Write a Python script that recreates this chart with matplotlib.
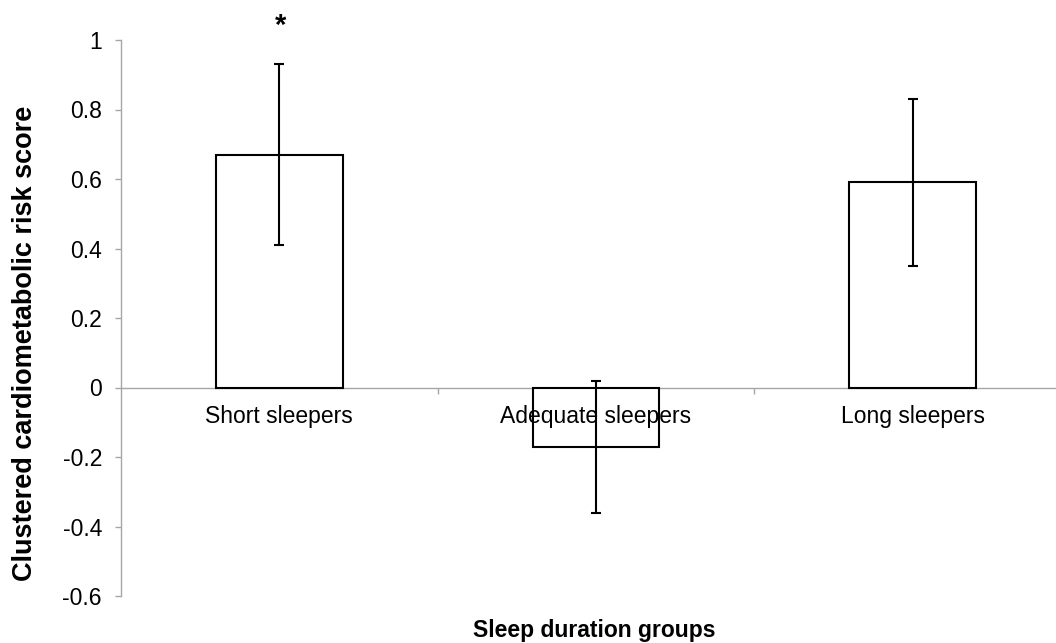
import matplotlib
matplotlib.use("Agg")
import matplotlib.pyplot as plt

categories = ["Short sleepers", "Adequate sleepers", "Long sleepers"]
means = [0.67, -0.17, 0.59]
errors = [0.26, 0.19, 0.24]
yticks = [1, 0.8, 0.6, 0.4, 0.2, 0, -0.2, -0.4, -0.6]
ytick_labels = ["1", "0.8", "0.6", "0.4", "0.2", "0", "-0.2", "-0.4", "-0.6"]

plt.rcParams['font.family'] = ['Liberation Sans', 'DejaVu Sans']

fig = plt.figure(figsize=(10.56, 6.43), dpi=100)
ax = fig.add_axes([121/1056, 47/643, 950/1056, 556/643])

x = list(range(len(categories)))
ax.bar(x, means, width=0.4, color="white", edgecolor="black", linewidth=1.5, zorder=2)
ax.errorbar(x, means, yerr=errors, fmt="none", ecolor="black", elinewidth=1.5,
            capsize=3.6, capthick=1.5, zorder=6)

ax.set_xlim(-0.5, 2.5)
ax.set_ylim(-0.6, 1.0)
ax.set_yticks(yticks)
ax.set_yticklabels(ytick_labels, fontsize=16.5)

ax.spines['top'].set_visible(False)
ax.spines['right'].set_visible(False)
ax.spines['bottom'].set_position(('data', 0))
for s in ['left', 'bottom']:
    ax.spines[s].set_color('#a6a6a6')
    ax.spines[s].set_linewidth(1.0)
    ax.spines[s].set_zorder(1)

ax.tick_params(axis='y', direction='out', length=4.3, width=1, color='#a6a6a6', pad=9.4)
ax.set_xticks(x)
ax.set_xticklabels(categories, fontsize=16.5)
ax.tick_params(axis='x', which='major', length=0, pad=12.5)
ax.set_xticks([0.5, 1.5], minor=True)
ax.tick_params(axis='x', which='minor', direction='out', length=4.3, width=1, color='#a6a6a6')
ax.xaxis.set_zorder(5)

ax.text(0.005, 1.04, "*", ha='center', va='center', fontsize=21, fontweight='bold', clip_on=False)

fig.text(594/1056, 1 - 631/643, "Sleep duration groups", ha='center', va='center',
         fontsize=16.5, fontweight='bold')
fig.text(25/1056, 1 - 343/643, "Clustered cardiometabolic risk score", ha='center', va='center',
         rotation=90, fontsize=19.5, fontweight='bold')

fig.savefig("out.png", dpi=100)
